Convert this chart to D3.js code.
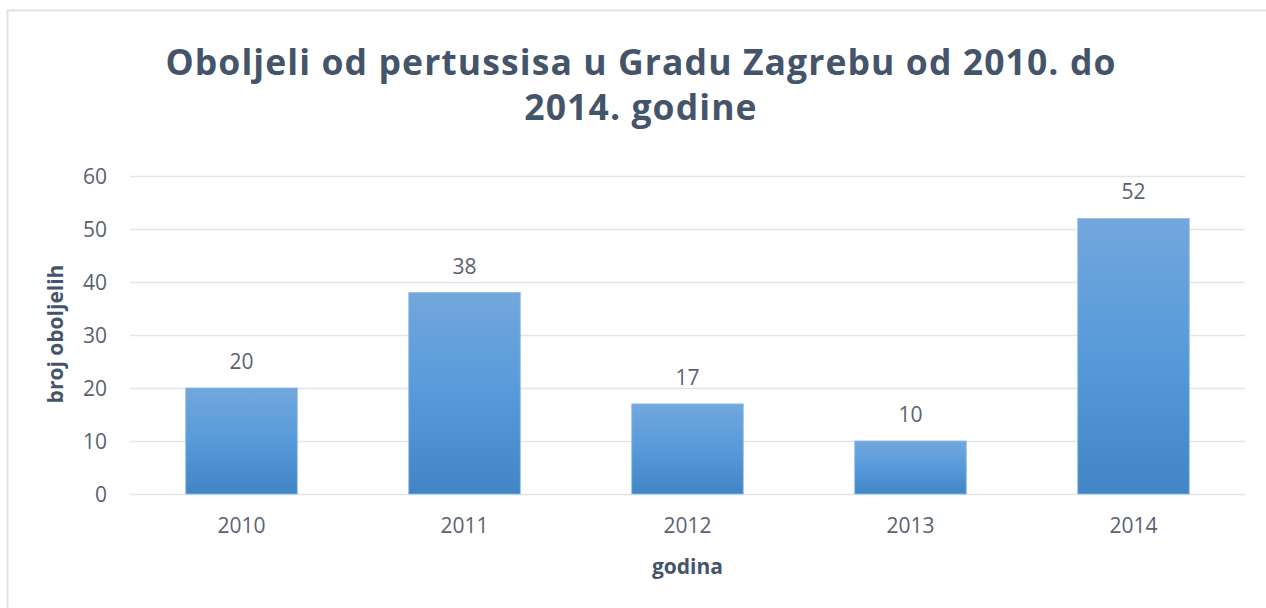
<!DOCTYPE html>
<html>
<head>
<meta charset="utf-8">
<script src="https://cdn.jsdelivr.net/npm/d3@7"></script>
<style>
  html, body { margin: 0; padding: 0; background: #fff; }
  svg { display: block; }
</style>
</head>
<body>
<svg id="chart" width="1266" height="608"></svg>
<script>
const titleLines = ["Oboljeli od pertussisa u Gradu Zagrebu od 2010. do", "2014. godine"];
const categories = ["2010", "2011", "2012", "2013", "2014"];
const values = [20, 38, 17, 10, 52];
const yTicks = [0, 10, 20, 30, 40, 50, 60];
const xTitle = "godina";
const yTitle = "broj oboljelih";

const svg = d3.select("#chart");
const font = "'Open Sans', 'Noto Sans', sans-serif";
const tickColor = "#5a6272";
const titleColor = "#44546a";

// outer frame
svg.append("rect").attr("x", 7.5).attr("y", 10.5).attr("width", 1266).attr("height", 620)
  .attr("fill", "#fff").attr("stroke", "#dce3eb").attr("stroke-width", 2);

const plot = { left: 130, right: 1245, top: 176, bottom: 494 };

const x = d3.scaleBand().domain(categories).range([plot.left, plot.right]).paddingInner(0.5).paddingOuter(0.25);
const y = d3.scaleLinear().domain([0, 60]).range([plot.bottom, plot.top]);

// gradient
const defs = svg.append("defs");
const grad = defs.append("linearGradient").attr("id", "barGrad").attr("x1", 0).attr("y1", 0).attr("x2", 0).attr("y2", 1);
grad.append("stop").attr("offset", "0%").attr("stop-color", "#72a7dc");
grad.append("stop").attr("offset", "50%").attr("stop-color", "#579ada");
grad.append("stop").attr("offset", "100%").attr("stop-color", "#4285c6");

// gridlines
svg.append("g").selectAll("line").data(yTicks).join("line")
  .attr("x1", plot.left).attr("x2", plot.right)
  .attr("y1", d => Math.round(y(d)) + 0.5).attr("y2", d => Math.round(y(d)) + 0.5)
  .attr("stroke", "#dfe5ee").attr("stroke-width", 1.3);

// y axis labels
const yAxis = d3.axisLeft(y).tickValues(yTicks).tickSize(0).tickPadding(0);
const yg = svg.append("g").attr("transform", `translate(107,0)`).call(yAxis);
yg.select(".domain").remove();
yg.selectAll("text").attr("font-family", font).attr("font-size", 21).attr("fill", tickColor).attr("dy", "0.36em");

// x axis labels
const xAxis = d3.axisBottom(x).tickSize(0).tickPadding(0);
const xg = svg.append("g").attr("transform", `translate(0,533)`).call(xAxis);
xg.select(".domain").remove();
xg.selectAll("text").attr("font-family", font).attr("font-size", 21).attr("fill", tickColor).attr("dy", "0");

// bars
svg.append("g").selectAll("rect").data(values).join("rect")
  .attr("x", (d, i) => x(categories[i]))
  .attr("width", x.bandwidth())
  .attr("y", d => y(d))
  .attr("height", d => y(0) - y(d))
  .attr("fill", "url(#barGrad)")
  .attr("stroke", "#8fb9e6").attr("stroke-width", 0.8);

// data labels
svg.append("g").selectAll("text").data(values).join("text")
  .attr("x", (d, i) => x(categories[i]) + x.bandwidth() / 2)
  .attr("y", d => y(d) - 19)
  .attr("text-anchor", "middle")
  .attr("font-family", font).attr("font-size", 21).attr("fill", tickColor)
  .text(d => d);

// title
const tfs = 35.5;
function fitText(sel, target) {
  const w = sel.node().getComputedTextLength();
  const n = sel.text().length;
  const ls = (target - w) / (n - 1);
  sel.attr("letter-spacing", ls);
  return ls;
}
const t1 = svg.append("text").attr("x", 641).attr("y", 75).attr("text-anchor", "middle")
  .attr("font-family", font).attr("font-weight", "bold").attr("fill", titleColor)
  .attr("font-size", tfs).text(titleLines[0]);
const ls = fitText(t1, 950);
svg.append("text").attr("x", 641).attr("y", 120).attr("text-anchor", "middle")
  .attr("font-family", font).attr("font-weight", "bold").attr("fill", titleColor)
  .attr("font-size", tfs).attr("letter-spacing", ls).text(titleLines[1]);

// axis titles
svg.append("text").attr("x", x("2012") + x.bandwidth() / 2).attr("y", 574).attr("text-anchor", "middle")
  .attr("font-family", font).attr("font-weight", "bold").attr("font-size", 21).attr("fill", titleColor)
  .text(xTitle);
svg.append("text").attr("transform", "translate(63,334) rotate(-90)").attr("text-anchor", "middle")
  .attr("font-family", font).attr("font-weight", "bold").attr("font-size", 21).attr("fill", titleColor)
  .text(yTitle);
</script>
</body>
</html>
